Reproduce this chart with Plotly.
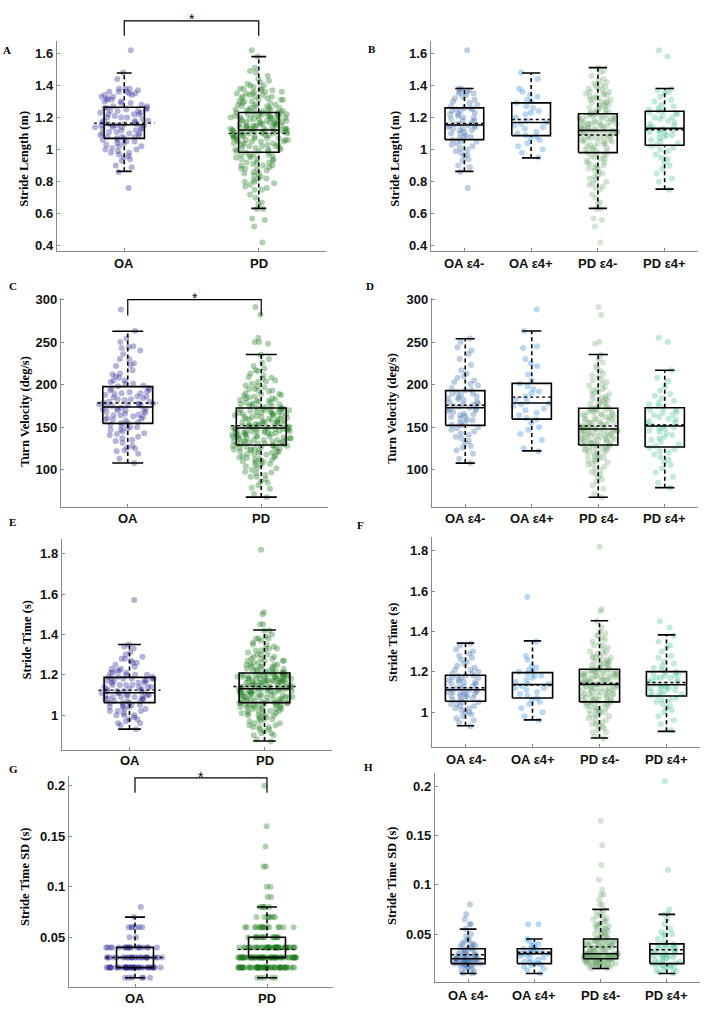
import numpy as np
import plotly.graph_objects as go

# figure size = picture size; the plot div is pinned to the page's top-left corner
FW, FH = 713, 1013


def pxx(p):
    return p / FW


def pxy(p):
    return 1 - p / FH


# ---------------- categories / tick labels ----------------
cats_left = ["OA", "PD"]
cats_right = ["OA ε4-", "OA ε4+", "PD ε4-", "PD ε4+"]

sl_ticks = [0.4, 0.6, 0.8, 1.0, 1.2, 1.4, 1.6]
sl_ticktext = ["0.4", "0.6", "0.8", "1", "1.2", "1.4", "1.6"]
tv_ticks = [100, 150, 200, 250, 300]
tv_ticktext = ["100", "150", "200", "250", "300"]
st_ticks = [1.0, 1.2, 1.4, 1.6, 1.8]
st_ticktext = ["1", "1.2", "1.4", "1.6", "1.8"]
sd_ticks = [0.05, 0.1, 0.15, 0.2]
sd_ticktext = ["0.05", "0.1", "0.15", "0.2"]

# ---------------- Stride Length (m) ----------------
sl_oa_neg = [0.76, 0.86, 0.89, 0.90, 0.93, 0.94, 0.96, 0.97, 0.98, 0.99, 1.00, 1.01, 1.02, 1.03, 1.04, 1.05, 1.05,
             1.06, 1.07, 1.08, 1.08, 1.09, 1.10, 1.10, 1.11, 1.12, 1.12, 1.13, 1.13, 1.14, 1.14, 1.15, 1.15, 1.15,
             1.16, 1.16, 1.17, 1.18, 1.18, 1.19, 1.20, 1.20, 1.21, 1.22, 1.22, 1.23, 1.24, 1.24, 1.25, 1.25, 1.26,
             1.26, 1.27, 1.28, 1.29, 1.30, 1.31, 1.32, 1.33, 1.34, 1.35, 1.35, 1.36, 1.36, 1.37, 1.38, 1.38, 1.62]
sl_oa_pos = [0.95, 0.98, 1.00, 1.02, 1.04, 1.06, 1.07, 1.08, 1.09, 1.10, 1.11, 1.13, 1.14, 1.15, 1.16, 1.17,
             1.18, 1.20, 1.22, 1.23, 1.24, 1.26, 1.27, 1.29, 1.30, 1.31, 1.33, 1.34, 1.36, 1.38, 1.44, 1.48]
sl_pd_neg = [0.42, 0.52, 0.56, 0.57, 0.63, 0.63, 0.66, 0.67, 0.70, 0.72, 0.75, 0.76, 0.77, 0.78, 0.79, 0.80,
             0.81, 0.82, 0.83, 0.84, 0.85, 0.86, 0.87, 0.88, 0.88, 0.89, 0.90, 0.90, 0.91, 0.92, 0.92, 0.93,
             0.94, 0.94, 0.95, 0.96, 0.96, 0.97, 0.97, 0.98,
             0.99, 0.99, 1.00, 1.00, 1.01, 1.01, 1.02, 1.02, 1.03, 1.03, 1.04, 1.04, 1.05, 1.05, 1.05, 1.06,
             1.06, 1.06, 1.07, 1.07, 1.07, 1.08, 1.08, 1.08, 1.09, 1.09, 1.09, 1.10, 1.10, 1.10, 1.10, 1.11,
             1.11, 1.11, 1.11, 1.12, 1.12, 1.12, 1.12, 1.12,
             1.13, 1.13, 1.13, 1.14, 1.14, 1.14, 1.15, 1.15, 1.15, 1.15, 1.16, 1.16, 1.16, 1.17, 1.17, 1.17,
             1.17, 1.18, 1.18, 1.18, 1.19, 1.19, 1.19, 1.19, 1.20, 1.20, 1.20, 1.21, 1.21, 1.21, 1.21, 1.22,
             1.22, 1.22, 1.22, 1.23, 1.23, 1.23, 1.13, 1.16,
             1.24, 1.24, 1.25, 1.25, 1.26, 1.26, 1.27, 1.27, 1.28, 1.28, 1.29, 1.29, 1.30, 1.30, 1.31, 1.31,
             1.32, 1.32, 1.33, 1.33, 1.34, 1.34, 1.35, 1.35, 1.36, 1.36, 1.37, 1.38, 1.38, 1.39, 1.40, 1.40,
             1.41, 1.42, 1.43, 1.44, 1.46, 1.48, 1.49, 1.51]
sl_pd_pos = [0.75, 0.80, 0.82, 0.85, 0.88, 0.90, 0.92, 0.94, 0.95, 0.97, 0.99, 1.00, 1.01, 1.02,
             1.03, 1.04, 1.05, 1.06, 1.07, 1.08, 1.09, 1.09, 1.10, 1.11, 1.11, 1.12, 1.12, 1.13,
             1.14, 1.14, 1.15, 1.16, 1.17, 1.18, 1.19, 1.20, 1.20, 1.21, 1.22, 1.23, 1.23, 1.24,
             1.24, 1.25, 1.26, 1.27, 1.28, 1.30, 1.31, 1.33, 1.35, 1.36, 1.37, 1.38, 1.58, 1.62]
# box stats: [lower whisker, q1, median, q3, upper whisker, mean]
sl_stats_left = [[0.864, 1.070, 1.155, 1.264, 1.478, 1.165],
                 [0.633, 0.983, 1.122, 1.231, 1.580, 1.101]]
sl_stats_right = [[0.864, 1.062, 1.153, 1.260, 1.381, 1.163],
                  [0.948, 1.087, 1.169, 1.291, 1.478, 1.188],
                  [0.633, 0.981, 1.120, 1.223, 1.511, 1.091],
                  [0.753, 1.027, 1.132, 1.239, 1.381, 1.124]]

# ---------------- Turn Velocity (deg/s) ----------------
tv_oa_neg = [108, 113, 119, 123, 126, 128, 132, 134, 137, 139, 141, 143, 145, 147, 149, 150, 152,
             153, 155, 156, 158, 159, 160, 162, 163, 164, 165, 166, 168, 169, 170, 171, 172, 173,
             174, 175, 176, 177, 178, 179, 180, 182, 183, 184, 185, 186, 188, 189, 190, 191, 193,
             194, 196, 199, 201, 203, 205, 208, 210, 213, 217, 223, 230, 236, 240, 244, 250, 254]
tv_oa_pos = [122, 125, 135, 142, 147, 150, 155, 159, 161, 164, 167, 170, 172, 175, 177, 178,
             180, 183, 186, 190, 192, 195, 198, 201, 205, 212, 222, 225, 230, 243, 245, 263, 288]
tv_pd_neg = [68, 72, 78, 82, 86, 89, 92, 94, 96, 98, 100, 102, 104, 106, 107, 109, 110, 111, 112, 113,
             114, 115, 116, 117, 118, 119, 120, 121, 122, 123, 123, 124, 125, 125, 126, 127, 127, 128, 128, 129,
             130, 130, 131, 131, 132, 132, 133, 133, 134, 134, 135, 135, 136, 136, 137, 137, 138, 138, 139, 139,
             140, 140, 141, 141, 142, 142, 143, 143, 144, 144, 145, 145, 146, 146, 146, 147, 147, 147, 148, 148,
             149, 149, 150, 150, 151, 151, 152, 152, 153, 153, 154, 155, 155, 156, 156, 157, 158, 158, 159, 160,
             160, 161, 162, 162, 163, 164, 164, 165, 166, 166, 167, 168, 168, 169, 170, 170, 171, 171, 172, 172,
             173, 174, 175, 176, 177, 178, 179, 180, 181, 182, 183, 184, 185, 186, 188, 189, 190, 192, 193, 195,
             197, 199, 201, 203, 205, 207, 209, 211, 213, 216, 219, 222, 226, 230, 235, 248, 250, 282, 291, 195]
tv_pd_pos = [79, 85, 92, 97, 102, 106, 109, 112, 115, 118, 120, 122, 124, 126,
             128, 130, 133, 135, 137, 139, 141, 143, 145, 146, 148, 149, 150, 151,
             152, 154, 155, 157, 159, 160, 162, 164, 165, 167, 168, 170, 171, 173,
             175, 177, 179, 181, 184, 187, 189, 193, 198, 204, 208, 217, 250, 255]
tv_stats_left = [[108.1, 154.6, 173.8, 197.7, 262.7, 178.5],
                 [68.1, 129.2, 149.2, 172.7, 235.4, 151.9]]
tv_stats_right = [[108.0, 152.3, 173.0, 193.0, 253.8, 175.8],
                  [122.3, 159.6, 178.5, 201.5, 263.0, 185.4],
                  [68.0, 129.2, 148.0, 172.3, 235.4, 151.5],
                  [79.2, 126.9, 151.5, 173.0, 216.9, 152.7]]

# ---------------- Stride Time (s) ----------------
st_oa_neg = [0.93, 0.95, 0.96, 0.97, 0.98, 0.99, 1.00, 1.00, 1.01, 1.02, 1.02, 1.03, 1.03, 1.04, 1.04, 1.05, 1.05,
             1.06, 1.06, 1.07, 1.07, 1.08, 1.08, 1.08, 1.09, 1.09, 1.09, 1.10, 1.10, 1.10, 1.10, 1.11, 1.11, 1.11,
             1.12, 1.12, 1.13, 1.13, 1.14, 1.14, 1.15, 1.15, 1.15, 1.16, 1.16, 1.17, 1.17, 1.17, 1.18, 1.18, 1.18,
             1.19, 1.19, 1.20, 1.21, 1.21, 1.22, 1.23, 1.24, 1.25, 1.26, 1.27, 1.28, 1.29, 1.30, 1.31, 1.33, 1.34]
st_oa_pos = [0.96, 0.98, 1.00, 1.02, 1.04, 1.05, 1.06, 1.07, 1.08, 1.09, 1.10, 1.11, 1.12, 1.12, 1.13, 1.14,
             1.14, 1.15, 1.16, 1.17, 1.18, 1.18, 1.19, 1.20, 1.20, 1.21, 1.22, 1.23, 1.26, 1.28, 1.35, 1.57]
st_pd_neg = [0.87, 0.88, 0.90, 0.90, 0.91, 0.92, 0.93, 0.93, 0.94, 0.94, 0.95, 0.95, 0.96, 0.97, 0.97, 0.98,
             0.98, 0.99, 0.99, 1.00, 1.00, 1.00, 1.01, 1.01, 1.01, 1.02, 1.02, 1.02, 1.03, 1.03, 1.03, 1.04,
             1.04, 1.04, 1.04, 1.05, 1.05, 1.05, 1.05, 1.05,
             1.06, 1.06, 1.06, 1.06, 1.07, 1.07, 1.07, 1.07, 1.08, 1.08, 1.08, 1.08, 1.09, 1.09, 1.09, 1.09,
             1.10, 1.10, 1.10, 1.10, 1.11, 1.11, 1.11, 1.11, 1.12, 1.12, 1.12, 1.12, 1.12, 1.13, 1.13, 1.13,
             1.13, 1.13, 1.14, 1.14, 1.14, 1.14, 1.06, 1.09,
             1.14, 1.15, 1.15, 1.15, 1.15, 1.16, 1.16, 1.16, 1.16, 1.17, 1.17, 1.17, 1.17, 1.18, 1.18, 1.18,
             1.18, 1.19, 1.19, 1.19, 1.19, 1.20, 1.20, 1.20, 1.20, 1.21, 1.21, 1.21, 1.21, 1.15, 1.16, 1.17,
             1.18, 1.19, 1.20, 1.21, 1.16, 1.18, 1.19, 1.20,
             1.22, 1.22, 1.22, 1.23, 1.23, 1.23, 1.24, 1.24, 1.24, 1.25, 1.25, 1.25, 1.26, 1.26, 1.27, 1.27,
             1.28, 1.28, 1.29, 1.29, 1.30, 1.30, 1.31, 1.32, 1.33, 1.33, 1.34, 1.35, 1.36, 1.37, 1.38, 1.38,
             1.39, 1.40, 1.42, 1.45, 1.50, 1.51, 1.82, 1.27]
st_pd_pos = [0.91, 0.94, 0.96, 0.98, 1.00, 1.01, 1.02, 1.03, 1.04, 1.05, 1.06, 1.06, 1.07, 1.08,
             1.08, 1.09, 1.09, 1.10, 1.10, 1.11, 1.11, 1.12, 1.12, 1.12, 1.13, 1.13, 1.13, 1.14,
             1.14, 1.15, 1.15, 1.16, 1.16, 1.17, 1.17, 1.17, 1.18, 1.18, 1.19, 1.19, 1.20, 1.20,
             1.21, 1.22, 1.23, 1.24, 1.25, 1.27, 1.28, 1.30, 1.32, 1.33, 1.35, 1.38, 1.42, 1.45]
st_stats_left = [[0.931, 1.062, 1.111, 1.187, 1.350, 1.124],
                 [0.872, 1.062, 1.131, 1.209, 1.422, 1.142]]
st_stats_right = [[0.933, 1.054, 1.111, 1.183, 1.342, 1.121],
                  [0.962, 1.070, 1.137, 1.196, 1.353, 1.135],
                  [0.872, 1.051, 1.137, 1.213, 1.453, 1.143],
                  [0.905, 1.080, 1.136, 1.201, 1.383, 1.147]]

# ---------------- Stride Time SD (s) ----------------
sd_oa_neg = [0.010, 0.010, 0.012, 0.013, 0.015, 0.015, 0.016, 0.017, 0.018, 0.018, 0.019, 0.019, 0.020, 0.020,
             0.020, 0.020, 0.020, 0.021, 0.021, 0.022, 0.022, 0.022, 0.023, 0.023, 0.023, 0.024, 0.024, 0.024,
             0.025, 0.025, 0.025, 0.025, 0.025, 0.025, 0.026, 0.026, 0.027, 0.027, 0.028, 0.028, 0.029, 0.029,
             0.030, 0.030, 0.030, 0.031, 0.032, 0.033, 0.034, 0.035, 0.035, 0.036, 0.037, 0.038, 0.040, 0.040,
             0.040, 0.042, 0.044, 0.045, 0.048, 0.050, 0.055, 0.060, 0.060, 0.065, 0.070, 0.080]
sd_oa_pos = [0.010, 0.013, 0.015, 0.017, 0.018, 0.019, 0.020, 0.020, 0.021, 0.022, 0.024, 0.025, 0.026, 0.028,
             0.029, 0.030, 0.030, 0.030, 0.031, 0.032, 0.033, 0.034, 0.035, 0.035, 0.036, 0.038, 0.040, 0.040,
             0.043, 0.045, 0.060, 0.060]
sd_pd_neg = [0.015, 0.015, 0.016, 0.016, 0.017, 0.017, 0.018, 0.018, 0.018, 0.019, 0.019, 0.019, 0.020, 0.020,
             0.020, 0.020, 0.021, 0.021, 0.021, 0.021, 0.022, 0.022, 0.022, 0.022, 0.023, 0.023, 0.023, 0.023,
             0.024, 0.024, 0.024, 0.024, 0.024, 0.025, 0.025, 0.025, 0.025, 0.025, 0.016, 0.020,
             0.025, 0.025, 0.026, 0.026, 0.026, 0.026, 0.026, 0.027, 0.027, 0.027, 0.027, 0.027, 0.028, 0.028,
             0.028, 0.028, 0.028, 0.028, 0.029, 0.029, 0.029, 0.029, 0.029, 0.029, 0.030, 0.030, 0.030, 0.030,
             0.030, 0.030, 0.030, 0.027, 0.028, 0.029, 0.026, 0.030, 0.028, 0.029, 0.027, 0.030,
             0.031, 0.031, 0.032, 0.032, 0.033, 0.033, 0.034, 0.034, 0.035, 0.035, 0.035, 0.036, 0.036, 0.037,
             0.037, 0.038, 0.038, 0.038, 0.039, 0.039, 0.040, 0.040, 0.040, 0.041, 0.041, 0.042, 0.042, 0.042,
             0.043, 0.043, 0.043, 0.044, 0.044, 0.044, 0.045, 0.045, 0.045, 0.033, 0.036, 0.040,
             0.046, 0.047, 0.048, 0.049, 0.050, 0.050, 0.051, 0.052, 0.053, 0.054, 0.055, 0.056, 0.057, 0.058,
             0.059, 0.060, 0.060, 0.061, 0.062, 0.063, 0.065, 0.066, 0.068, 0.070, 0.070, 0.072, 0.075, 0.080,
             0.080, 0.085, 0.090, 0.090, 0.095, 0.105, 0.120, 0.140, 0.165, 0.050, 0.055, 0.065]
sd_pd_pos = [0.010, 0.011, 0.012, 0.013, 0.014, 0.015, 0.016, 0.017, 0.018, 0.018, 0.019, 0.019, 0.020, 0.020,
             0.021, 0.022, 0.023, 0.024, 0.025, 0.025, 0.026, 0.027, 0.028, 0.028, 0.029, 0.029, 0.030, 0.030,
             0.030, 0.031, 0.032, 0.033, 0.034, 0.035, 0.035, 0.036, 0.037, 0.038, 0.038, 0.039, 0.040, 0.040,
             0.042, 0.045, 0.048, 0.050, 0.050, 0.052, 0.055, 0.060, 0.065, 0.070, 0.070, 0.075, 0.115, 0.205]
sd_stats_left = [[0.010, 0.020, 0.030, 0.040, 0.070, 0.030],
                 [0.010, 0.030, 0.030, 0.050, 0.080, 0.038]]
sd_stats_right = [[0.010, 0.020, 0.025, 0.035, 0.055, 0.029],
                  [0.010, 0.020, 0.030, 0.035, 0.045, 0.0315],
                  [0.015, 0.025, 0.030, 0.045, 0.075, 0.037],
                  [0.010, 0.020, 0.030, 0.040, 0.070, 0.034]]

# ---------------- colours ----------------
col_left = ["rgba(40,40,150,0.35)", "rgba(25,120,25,0.35)"]
col_right = ["rgba(55,105,170,0.33)", "rgba(50,140,225,0.35)",
             "rgba(110,165,110,0.30)", "rgba(50,185,140,0.30)"]

# left panels pool the two genotype subgroups (G shows values at 0.01 resolution)
sd_left_oa = list(np.round(np.array(sd_oa_neg + sd_oa_pos), 2))
sd_left_pd = list(np.round(np.array(sd_pd_neg + sd_pd_pos), 2))

# px = (left, right, top, bottom) of the axes box in picture pixels
panels = [
    dict(letter="A", title="Stride Length (m)", cats=cats_left, vals=[sl_oa_neg + sl_oa_pos, sl_pd_neg + sl_pd_pos],
         stats=sl_stats_left, cols=col_left, px=(57, 326, 35, 247), yr=(0.367, 1.679), tv=sl_ticks, tt=sl_ticktext,
         geo=(0.15, 0.055, 0.225, 0.44), title_pos=(24, 154), letter_pos=(7, 44), xlab_y=260),
    dict(letter="B", title="Stride Length (m)", cats=cats_right, vals=[sl_oa_neg, sl_oa_pos, sl_pd_neg, sl_pd_pos],
         stats=sl_stats_right, cols=col_right, px=(431, 698, 35, 247), yr=(0.367, 1.679), tv=sl_ticks, tt=sl_ticktext,
         geo=(0.29, 0.137, 0.29, 0.58), title_pos=(395, 154), letter_pos=(372, 43), xlab_y=260),
    dict(letter="C", title="Turn Velocity (deg/s)", cats=cats_left, vals=[tv_oa_neg + tv_oa_pos, tv_pd_neg + tv_pd_pos],
         stats=tv_stats_left, cols=col_left, px=(61, 328, 294, 505), yr=(56.5, 302), tv=tv_ticks, tt=tv_ticktext,
         geo=(0.187, 0.116, 0.227, 0.44), title_pos=(25, 409), letter_pos=(12.5, 282), xlab_y=517),
    dict(letter="D", title="Turn Velocity (deg/s)", cats=cats_right, vals=[tv_oa_neg, tv_oa_pos, tv_pd_neg, tv_pd_pos],
         stats=tv_stats_right, cols=col_right, px=(432, 698, 294, 505), yr=(56.5, 302), tv=tv_ticks, tt=tv_ticktext,
         geo=(0.295, 0.145, 0.295, 0.58), title_pos=(392, 406), letter_pos=(370, 282), xlab_y=517),
    dict(letter="E", title="Stride Time (s)", cats=cats_left, vals=[st_oa_neg + st_oa_pos, st_pd_neg + st_pd_pos],
         stats=st_stats_left, cols=col_left, px=(62, 332, 537, 750), yr=(0.827, 1.874), tv=st_ticks, tt=st_ticktext,
         geo=(0.188, 0.084, 0.23, 0.42), title_pos=(26.5, 639), letter_pos=(12, 520), xlab_y=761),
    dict(letter="F", title="Stride Time (s)", cats=cats_right, vals=[st_oa_neg, st_oa_pos, st_pd_neg, st_pd_pos],
         stats=st_stats_right, cols=col_right, px=(432, 700, 535, 747), yr=(0.827, 1.869), tv=st_ticks, tt=st_ticktext,
         geo=(0.30, 0.13, 0.30, 0.58), title_pos=(393, 642), letter_pos=(360, 523), xlab_y=760),
    dict(letter="G", title="Stride Time SD (s)", cats=cats_left, vals=[sd_left_oa, sd_left_pd],
         stats=sd_stats_left, cols=col_left, px=(69, 333, 776, 989), yr=(0.0006, 0.2098), tv=sd_ticks, tt=sd_ticktext,
         geo=(0.14, 0.076, 0.222, 0.44), title_pos=(25, 878), letter_pos=(13, 769), xlab_y=1000),
    dict(letter="H", title="Stride Time SD (s)", cats=cats_right, vals=[sd_oa_neg, sd_oa_pos, sd_pd_neg, sd_pd_pos],
         stats=sd_stats_right, cols=col_right, px=(435, 700, 773, 984), yr=(0.0011, 0.2135), tv=sd_ticks, tt=sd_ticktext,
         geo=(0.257, 0.126, 0.257, 0.52), title_pos=(392, 877), letter_pos=(368, 767), xlab_y=997),
]

# significance brackets (left column): (panel index, top line px, bottom of legs px, star centre px)
brackets = [(0, 15, 30, 13), (2, 296, 312, 294), (6, 778, 793, 777)]

SANS = "Liberation Sans, Arial, sans-serif"
TICKFONT = dict(family=SANS, size=13, color="#111111", weight="bold")
SERIF = "Liberation Serif, Times New Roman, serif"
AXCOL = "#8a8a8a"

fig = go.Figure()
layout = dict(width=FW, height=FH, margin=dict(l=0, r=0, t=0, b=0), showlegend=False,
              plot_bgcolor="white", paper_bgcolor="white", boxmode="overlay", boxgap=0, boxgroupgap=0)
annotations = []
shapes = []

for k, pn in enumerate(panels):
    s = "" if k == 0 else str(k + 1)
    xr, yr_ = "x" + s, "y" + s
    x0p, x1p, y0p, y1p = pn["px"]
    ncat = len(pn["cats"])
    layout["xaxis" + s] = dict(domain=[pxx(x0p), pxx(x1p)], anchor=yr_, type="linear", range=[0.5, ncat + 0.5],
                               tickvals=list(range(1, ncat + 1)), showticklabels=False, ticks="inside", ticklen=3,
                               tickcolor=AXCOL, showline=True, linecolor=AXCOL, linewidth=1.2, showgrid=False,
                               zeroline=False, fixedrange=True)
    layout["yaxis" + s] = dict(domain=[pxy(y1p), pxy(y0p)], anchor=xr, range=list(pn["yr"]),
                               tickvals=pn["tv"], ticktext=pn["tt"], ticks="inside", ticklen=3, tickcolor=AXCOL,
                               showline=True, linecolor=AXCOL, linewidth=1.2, showgrid=False, zeroline=False,
                               tickfont=TICKFONT, fixedrange=True)
    bh, ch, mh, jw = pn["geo"]
    # jittered points
    for i, (vals, col) in enumerate(zip(pn["vals"], pn["cols"])):
        fig.add_trace(go.Box(y=vals, x0=i + 1, width=jw, boxpoints="all", jitter=1, pointpos=0,
                             fillcolor="rgba(0,0,0,0)", line=dict(width=0, color="rgba(0,0,0,0)"),
                             marker=dict(size=6, color=col, line=dict(width=0)),
                             xaxis=xr, yaxis=yr_, hoverinfo="skip", showlegend=False))
    # boxes
    sx, sy, wx, wy, mx, my = [], [], [], [], [], []
    for i, (lo, q1, med, q3, hi, mean) in enumerate(pn["stats"]):
        p = i + 1
        sx += [p - bh, p + bh, p + bh, p - bh, p - bh, None, p - bh, p + bh, None,
               p - ch, p + ch, None, p - ch, p + ch, None]
        sy += [q1, q1, q3, q3, q1, None, med, med, None, lo, lo, None, hi, hi, None]
        wx += [p, p, None, p, p, None]
        wy += [q3, hi, None, lo, q1, None]
        mx += [p - mh, p + mh, None]
        my += [mean, mean, None]
    fig.add_trace(go.Scatter(x=wx, y=wy, mode="lines", line=dict(color="black", width=1.6, dash="4px,3px"),
                             xaxis=xr, yaxis=yr_, hoverinfo="skip"))
    fig.add_trace(go.Scatter(x=sx, y=sy, mode="lines", line=dict(color="black", width=1.6),
                             xaxis=xr, yaxis=yr_, hoverinfo="skip"))
    fig.add_trace(go.Scatter(x=mx, y=my, mode="lines", line=dict(color="black", width=1.4, dash="dot"),
                             xaxis=xr, yaxis=yr_, hoverinfo="skip"))
    # category labels
    for i, c in enumerate(pn["cats"]):
        annotations.append(dict(text=c, x=i + 1, y=pxy(pn["xlab_y"]), xref=xr, yref="paper", showarrow=False,
                                xanchor="center", yanchor="middle", font=TICKFONT))
    # y-axis title
    tx, ty = pn["title_pos"]
    annotations.append(dict(text="<b>" + pn["title"] + "</b>", x=pxx(tx), y=pxy(ty), xref="paper", yref="paper",
                            textangle=-90, showarrow=False, xanchor="center", yanchor="middle",
                            font=dict(family=SERIF, size=12.5, color="black")))
    lx, ly = pn["letter_pos"]
    annotations.append(dict(text="<b>" + pn["letter"] + "</b>", x=pxx(lx), y=pxy(ly), xref="paper", yref="paper",
                            showarrow=False, xanchor="center", yanchor="middle",
                            font=dict(family=SERIF, size=11, color="black")))

for (k, ytop, ybot, ystar) in brackets:
    s = "" if k == 0 else str(k + 1)
    xr = "x" + s
    yt, yb = pxy(ytop), pxy(ybot)
    shapes.append(dict(type="path", xref=xr, yref="paper",
                       path=f"M 1,{yb} L 1,{yt} L 2,{yt} L 2,{yb}",
                       line=dict(color="black", width=1.2)))
    annotations.append(dict(text="*", x=1.5, y=pxy(ystar), xref=xr, yref="paper", showarrow=False,
                            xanchor="center", yanchor="middle",
                            font=dict(family=SANS, size=14, color="black")))

layout["annotations"] = annotations
layout["shapes"] = shapes
fig.update_layout(**layout)

# pin the plot to the page corner (no default body margin)
pin = ("document.body.style.margin='0';document.body.style.overflow='hidden';"
       "var d=document.getElementsByClassName('plotly-graph-div')[0];"
       "d.style.position='fixed';d.style.left='0px';d.style.top='0px';")
fig.write_html("out.html", post_script=pin, config={"displayModeBar": False, "staticPlot": True})
